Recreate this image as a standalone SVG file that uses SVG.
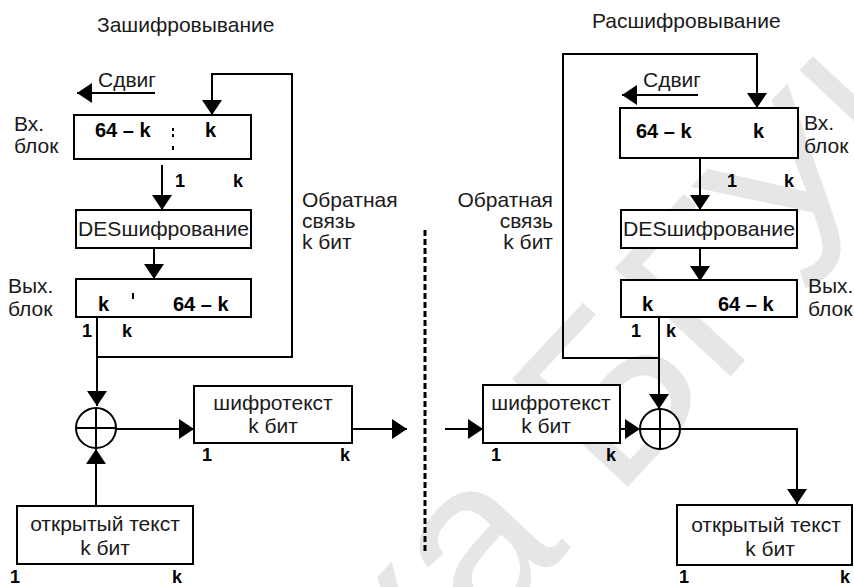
<svg xmlns="http://www.w3.org/2000/svg" width="854" height="587" viewBox="0 0 854 587">
<defs>
<style>
.ln{stroke:#000;stroke-width:2;fill:none}
.bx{fill:#fff;stroke:#000;stroke-width:2}
text{font-family:"Liberation Sans",Arial,sans-serif;font-size:21px;fill:#1a1a1a}
.b{font-weight:bold;font-size:20px;fill:#000}
.s{font-weight:bold;font-size:18px;fill:#000}
.c{text-anchor:middle}
.r{text-anchor:end}
.wm{font-size:230px;fill:#e6e6e6;font-family:"Liberation Sans",Arial,sans-serif}
</style>
<marker id="ah" viewBox="0 0 15 20" refX="15" refY="10" markerWidth="15" markerHeight="20" orient="auto" markerUnits="userSpaceOnUse"><path d="M0,0 L15,10 L0,20 z" fill="#000"/></marker>
</defs>
<rect width="854" height="587" fill="#fff"/>
<g id="watermark"><text class="wm" transform="translate(412,718) rotate(-47)">ка БГУИР</text></g>

<g id="connectors">
<line class="ln" x1="155" y1="93" x2="77" y2="93" marker-end="url(#ah)"/>
<polyline class="ln" points="97,357 292,357 292,74 212,74 212,115" marker-end="url(#ah)"/>
<line class="ln" x1="162" y1="165" x2="162" y2="210" marker-end="url(#ah)"/>
<line class="ln" x1="154" y1="248" x2="154" y2="279" marker-end="url(#ah)"/>
<line class="ln" x1="97" y1="317" x2="97" y2="406" marker-end="url(#ah)"/>
<line class="ln" x1="96" y1="506" x2="96" y2="449" marker-end="url(#ah)"/>
<line class="ln" x1="116" y1="429" x2="194" y2="429" marker-end="url(#ah)"/>
<line class="ln" x1="352" y1="429" x2="407" y2="429" marker-end="url(#ah)"/>
<line x1="425" y1="230" x2="425" y2="553" stroke="#000" stroke-width="3" stroke-dasharray="6,3"/>
<line class="ln" x1="698" y1="95" x2="622" y2="95" marker-end="url(#ah)"/>
<polyline class="ln" points="659,358 563,358 563,54 757,54 757,108" marker-end="url(#ah)"/>
<line class="ln" x1="700" y1="158" x2="700" y2="210" marker-end="url(#ah)"/>
<line class="ln" x1="700" y1="248" x2="700" y2="281" marker-end="url(#ah)"/>
<line class="ln" x1="659" y1="317" x2="659" y2="409" marker-end="url(#ah)"/>
<line class="ln" x1="445" y1="429" x2="483" y2="429" marker-end="url(#ah)"/>
<line class="ln" x1="620" y1="429" x2="640" y2="429" marker-end="url(#ah)"/>
<polyline class="ln" points="680,429 797,429 797,504" marker-end="url(#ah)"/>
</g>

<g id="enc-title"><text x="97" y="32">Зашифровывание</text></g>
<g id="enc-shift"><text x="98" y="87">Сдвиг</text></g>
<g id="enc-inblock">
<rect class="bx" x="74" y="115" width="177" height="44"/>
<text class="b" x="95" y="137">64 – k</text>
<text class="b" x="205" y="137">k</text>
<rect x="172" y="128" width="2" height="3" fill="#000"/>
<rect x="172" y="134" width="2" height="3" fill="#000"/>
<rect x="172" y="146" width="2" height="4" fill="#000"/>
</g>
<g id="enc-inlabel"><text x="14" y="131">Вх.</text><text x="14" y="153">блок</text></g>
<g id="enc-bits1"><text class="s" x="175" y="187">1</text><text class="s" x="233" y="187">k</text></g>
<g id="enc-des"><rect class="bx" x="76" y="210" width="175" height="38"/><text x="78" y="236" font-size="20" textLength="171" lengthAdjust="spacingAndGlyphs">DESшифрование</text></g>
<g id="enc-outblock">
<rect class="bx" x="76" y="279" width="175" height="38"/>
<text class="b" x="98" y="311">k</text>
<text class="b" x="173" y="311">64 – k</text>
<rect x="132" y="293" width="2" height="6" fill="#000"/>
</g>
<g id="enc-outlabel"><text x="8" y="293">Вых.</text><text x="8" y="316">блок</text></g>
<g id="enc-bits2"><text class="s" x="82" y="337">1</text><text class="s" x="122" y="337">k</text></g>
<g id="enc-feedback"><text x="302" y="207">Обратная</text><text x="302" y="228">связь</text><text x="302" y="249">k бит</text></g>
<g id="enc-xor"><circle class="bx" cx="96" cy="428" r="20"/><line class="ln" x1="76" y1="428" x2="116" y2="428"/><line class="ln" x1="96" y1="408" x2="96" y2="448"/></g>
<g id="enc-cipher">
<rect class="bx" x="194" y="386" width="158" height="57"/>
<text class="c" x="273" y="410">шифротекст</text>
<text class="c" x="273" y="433">k бит</text>
<text class="s" x="202" y="461">1</text><text class="s" x="340" y="461">k</text>
</g>
<g id="enc-plain">
<rect class="bx" x="17" y="506" width="176" height="58"/>
<text class="c" x="105" y="531">открытый текст</text>
<text class="c" x="105" y="555">k бит</text>
<text class="s" x="10" y="583">1</text><text class="s" x="172" y="583">k</text>
</g>

<g id="dec-title"><text x="592" y="28">Расшифровывание</text></g>
<g id="dec-shift"><text x="643" y="87">Сдвиг</text></g>
<g id="dec-inblock">
<rect class="bx" x="620" y="108" width="178" height="50"/>
<text class="b" x="636" y="138">64 – k</text>
<text class="b" x="753" y="138">k</text>
</g>
<g id="dec-inlabel"><text x="804" y="130">Вх.</text><text x="804" y="153">блок</text></g>
<g id="dec-bits1"><text class="s" x="727" y="187">1</text><text class="s" x="784" y="187">k</text></g>
<g id="dec-des"><rect class="bx" x="621" y="210" width="176" height="38"/><text x="623" y="236" font-size="20" textLength="172" lengthAdjust="spacingAndGlyphs">DESшифрование</text></g>
<g id="dec-outblock">
<rect class="bx" x="621" y="280" width="176" height="37"/>
<text class="b" x="642" y="311">k</text>
<text class="b" x="718" y="311">64 – k</text>
</g>
<g id="dec-outlabel"><text x="808" y="293">Вых.</text><text x="808" y="316">блок</text></g>
<g id="dec-bits2"><text class="s" x="631" y="337">1</text><text class="s" x="666" y="337">k</text></g>
<g id="dec-feedback"><text class="r" x="553" y="207">Обратная</text><text class="r" x="553" y="228">связь</text><text class="r" x="553" y="249">k бит</text></g>
<g id="dec-xor"><circle class="bx" cx="660" cy="429" r="20"/><line class="ln" x1="640" y1="429" x2="680" y2="429"/><line class="ln" x1="660" y1="409" x2="660" y2="449"/></g>
<g id="dec-cipher">
<rect class="bx" x="483" y="385" width="137" height="58"/>
<text class="c" x="551" y="410">шифротекст</text>
<text class="c" x="546" y="433">k бит</text>
<text class="s" x="491" y="461">1</text><text class="s" x="606" y="461">k</text>
</g>
<g id="dec-plain">
<rect class="bx" x="677" y="505" width="175" height="60"/>
<text class="c" x="766" y="532">открытый текст</text>
<text class="c" x="770" y="556">k бит</text>
<text class="s" x="679" y="583">1</text><text class="s" x="840" y="583">k</text>
</g>
</svg>
